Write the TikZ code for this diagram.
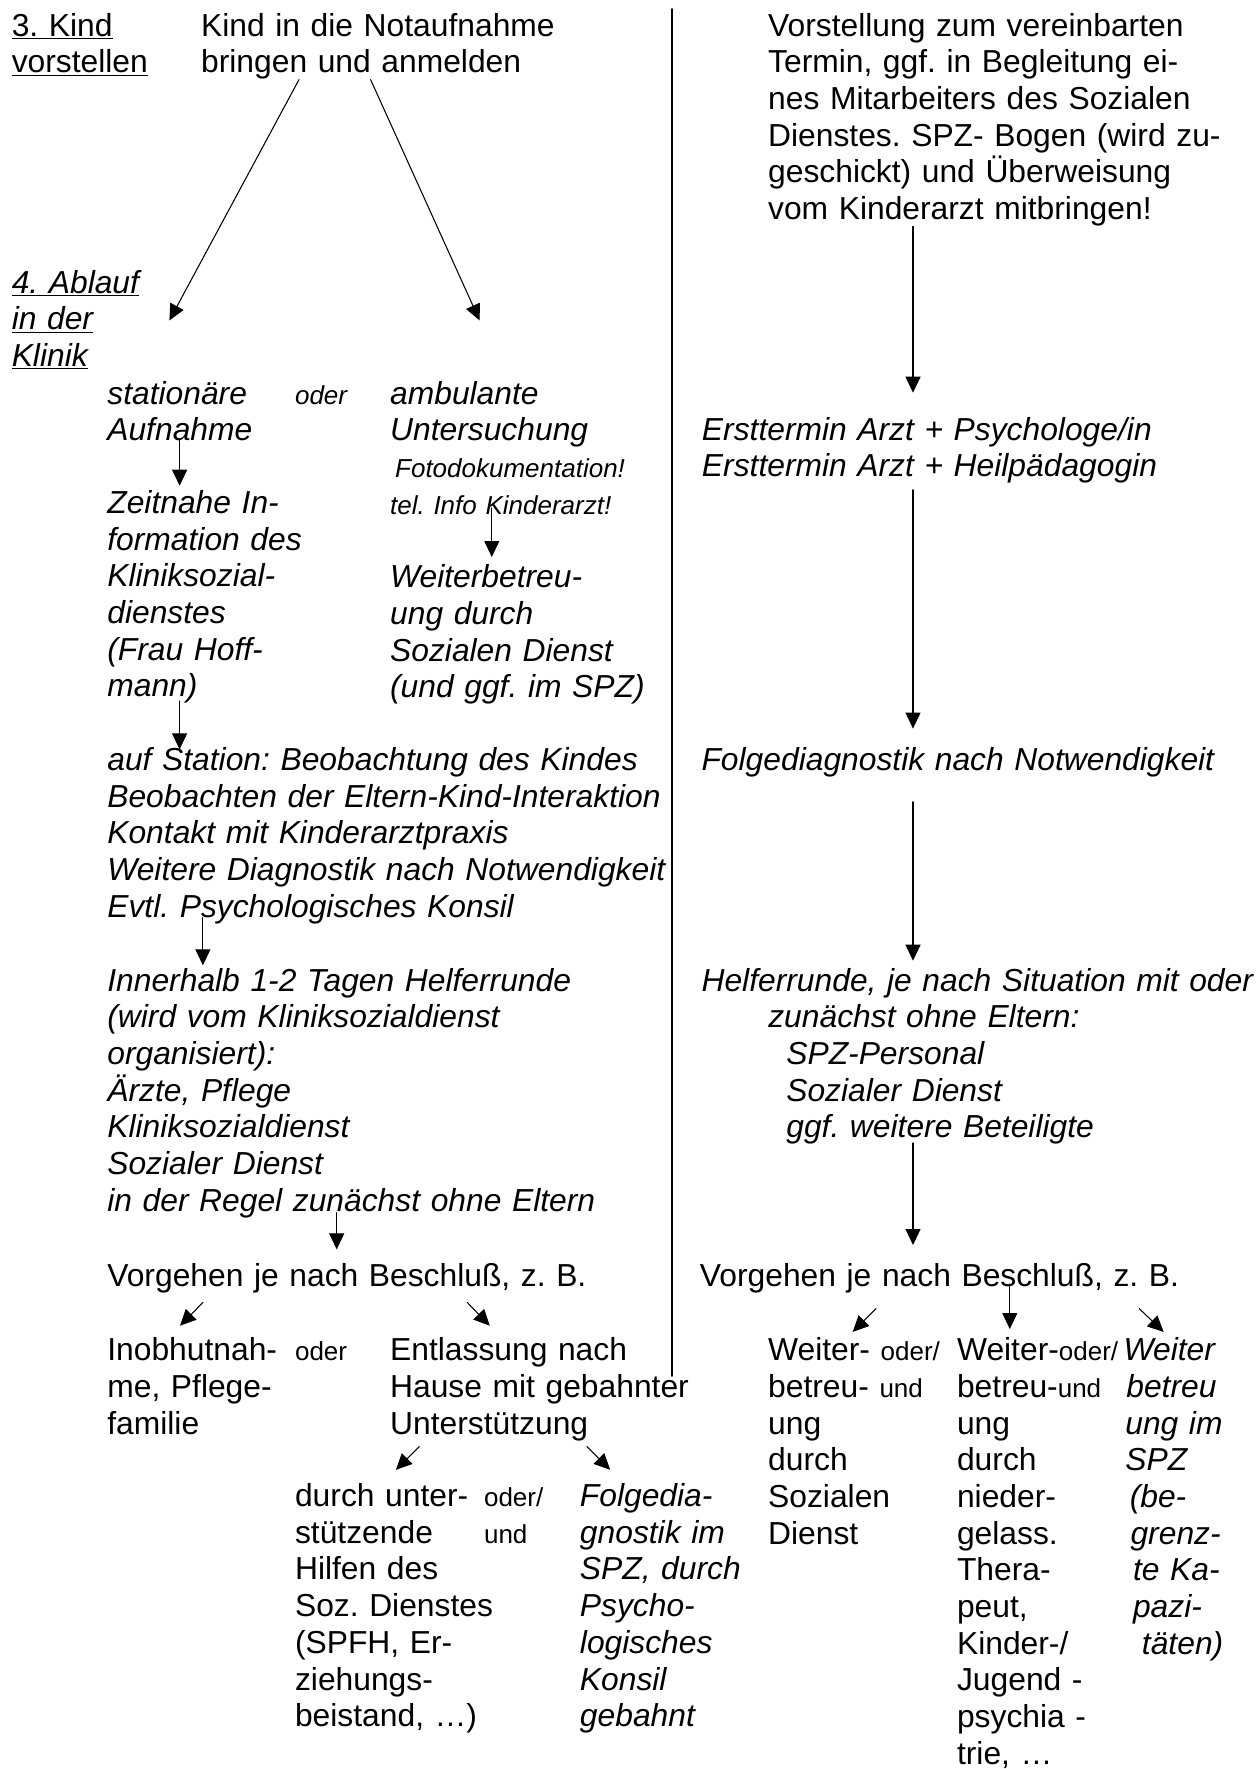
\documentclass[tikz,border=0pt]{standalone}
\usepackage{fontspec}
\setmainfont{Liberation Sans}
\usetikzlibrary{arrows.meta}

\newcommand\grosstext{\fontsize{18.1}{20.88}\selectfont}
\newcommand\kleintext{\fontsize{14.8}{20.88}\selectfont}
\setlength{\lineskiplimit}{-20pt}
\frenchspacing

\begin{document}
\begin{tikzpicture}[
  x=0.02cm, y=-0.02cm,
  line cap=round,
  font=\grosstext,
  txt/.style={anchor=base west, inner sep=0pt, text width=12cm, align=left},
  ktxt/.style={txt, font=\grosstext\itshape},
  kl/.style={txt, font=\kleintext},
  kli/.style={txt, font=\kleintext\itshape},
  pfeil/.style={line width=0.6pt, -{Triangle[length=0.32cm,width=0.3cm]}}
]
  \useasboundingbox (0,0) rectangle (1259,1769);

  % Trennlinie
  \coordinate (oben) at (672.2,9);
  \coordinate (unten) at (672.2,1376);
  \draw[line width=0.9pt] (oben) -- (unten);

  % ---- linke Spalte: Notaufnahme ----
  \node[txt] (kind) at (11.4,36) {\underline{3. Kind}\\\underline{vorstellen}};
  \node[txt] (nota) at (200.8,36) {Kind in die Notaufnahme\\bringen und anmelden};

  \node[ktxt] (ablauf) at (11.4,293) {\underline{4. Ablauf}\\\underline{in der}\\\underline{Klinik}};

  \node[ktxt] (stat) at (107,404) {stationäre\\Aufnahme};
  \node[kli] (oder1) at (294.7,404) {oder};
  \node[ktxt] (amb) at (389.8,404) {ambulante\\Untersuchung};
  \node[kli] (foto) at (389.8,477.6) {\hspace*{0.1cm}Fotodokumentation!\\tel. Info Kinderarzt!};

  \node[ktxt] (zeit) at (107,513.5)
    {Zeitnahe In-\\formation des\\Kliniksozial-\\dienstes\\(Frau Hoff-\\mann)};
  \node[ktxt] (weiter) at (389.8,587.8)
    {Weiterbetreu-\\ung durch\\Sozialen Dienst\\(und ggf. im SPZ)};

  \node[ktxt] (station) at (107,770.6)
    {auf Station: Beobachtung des Kindes\\Beobachten der Eltern-Kind-Interaktion\\Kontakt mit Kinderarztpraxis\\Weitere Diagnostik nach Notwendigkeit\\Evtl. Psychologisches Konsil};

  \node[ktxt] (innerh) at (107,991)
    {Innerhalb 1-2 Tagen Helferrunde\\(wird vom Kliniksozialdienst\\organisiert):\\Ärzte, Pflege\\Kliniksozialdienst\\Sozialer Dienst\\in der Regel zunächst ohne Eltern};

  \node[txt] (vorgL) at (107,1286) {Vorgehen je nach Beschluß, z. B.};
  \node[txt] (inob) at (107,1360.8) {Inobhutnah-\\me, Pflege-\\familie};
  \node[kl] (oder2) at (294.7,1360.8) {oder};
  \node[txt] (entl) at (389.8,1360.8) {Entlassung nach\\Hause mit gebahnter\\Unterstützung};

  \node[txt] (hilfen) at (294.7,1506.6)
    {durch unter-\\stützende\\Hilfen des\\Soz. Dienstes\\(SPFH, Er-\\ziehungs-\\beistand, …)};
  \node[kl] (oder3) at (483.7,1506.6) {oder/\\und};
  \node[ktxt] (folgL) at (579.6,1506.6)
    {Folgedia-\\gnostik im\\SPZ, durch\\Psycho-\\logisches\\Konsil\\gebahnt};

  % ---- rechte Spalte: SPZ ----
  \node[txt] (vorst) at (767.8,36)
    {Vorstellung zum vereinbarten\\Termin, ggf. in Begleitung ei-\\nes Mitarbeiters des Sozialen\\Dienstes. SPZ- Bogen (wird zu-\\geschickt) und Überweisung\\vom Kinderarzt mitbringen!};
  \node[ktxt] (erst) at (701.6,440)
    {Ersttermin Arzt + Psychologe/in\\Ersttermin Arzt + Heilpädagogin};
  \node[ktxt] (folgR) at (701.2,770.6) {Folgediagnostik nach Notwendigkeit};
  \node[ktxt] (helfR) at (701.2,991)
    {Helferrunde, je nach Situation mit oder\\\hspace*{1.336cm}zunächst ohne Eltern:\\\hspace*{1.696cm}SPZ-Personal\\\hspace*{1.696cm}Sozialer Dienst\\\hspace*{1.696cm}ggf. weitere Beteiligte};
  \node[txt] (vorgR) at (699.6,1286) {Vorgehen je nach Beschluß, z. B.};

  \node[txt] (wsd) at (767.8,1360.8)
    {Weiter- {\kleintext oder/}\\betreu- {\kleintext und}\\ung\\durch\\Sozialen\\Dienst};
  \node[txt] (wth) at (956.7,1360.8)
    {Weiter-{\kleintext oder/}\\betreu-{\kleintext und}\\ung\\durch\\nieder-\\gelass.\\Thera-\\peut,\\Kinder-/\\Jugend -\\psychia -\\trie, …};
  \node[ktxt] (wspz) at (1123.3,1360.8)
    {Weiter\\\hspace*{0.054cm}betreu\\\hspace*{0.034cm}ung im\\\hspace*{0.034cm}SPZ\\\hspace*{0.122cm}(be-\\\hspace*{0.138cm}grenz-\\\hspace*{0.188cm}te Ka-\\\hspace*{0.188cm}pazi-\\\hspace*{0.366cm}täten)};

  % Pfeile links
  \coordinate (a1) at (299,79.6);     \coordinate (b1) at (169.4,320.4);
  \coordinate (a2) at (370.6,79.6);   \coordinate (b2) at (479.6,320.4);
  \coordinate (a3) at (179.6,438.8);  \coordinate (b3) at (179.6,485.7);
  \coordinate (a4) at (491.8,508);    \coordinate (b4) at (491.8,557);
  \coordinate (a5) at (179.6,701);    \coordinate (b5) at (179.6,749.4);
  \coordinate (a6) at (202.9,917.6);  \coordinate (b6) at (202.9,965.3);
  \coordinate (a7) at (336.7,1212.7); \coordinate (b7) at (336.7,1249.4);
  \coordinate (a8) at (202.9,1302.5); \coordinate (b8) at (180,1325.7);
  \coordinate (a9) at (467.3,1302.5); \coordinate (b9) at (489.8,1325.7);
  \coordinate (a10) at (419.2,1446.6); \coordinate (b10) at (395.9,1469.8);
  \coordinate (a11) at (587,1446.6);  \coordinate (b11) at (610.2,1469.8);
  \foreach \i in {1,...,11}
    \draw[pfeil] (a\i) -- (b\i);

  % Pfeile rechts
  \coordinate (r1) at (913,226.5);    \coordinate (s1) at (913,392.7);
  \coordinate (r2) at (913,489.8);    \coordinate (s2) at (913,728.6);
  \coordinate (r3) at (913,801.8);    \coordinate (s3) at (913,960.7);
  \coordinate (r4) at (913,1142.9);   \coordinate (s4) at (913,1245);
  \coordinate (r5) at (875.9,1308.6); \coordinate (s5) at (852.7,1331.9);
  \coordinate (r6) at (1009.8,1284);  \coordinate (s6) at (1009.8,1329);
  \coordinate (r7) at (1139.2,1308.6); \coordinate (s7) at (1163.7,1331.9);
  \foreach \i in {1,...,7}
    \draw[pfeil] (r\i) -- (s\i);

\end{tikzpicture}
\end{document}
